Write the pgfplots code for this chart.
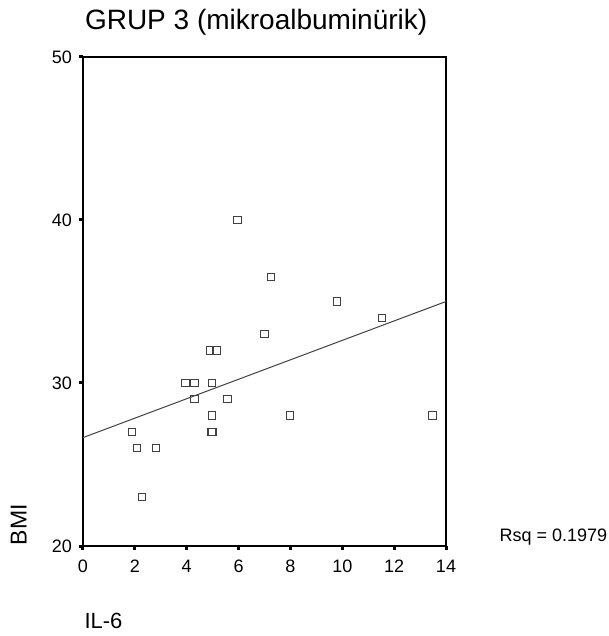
\documentclass[border=0pt]{standalone}
\usepackage{pgfplots}
\pgfplotsset{compat=1.18}
\usepackage{fontspec}
\setmainfont{Liberation Sans}
\begin{document}
\begin{tikzpicture}
\useasboundingbox (-83pt,-90pt) rectangle (525pt,546pt);
\begin{axis}[
  scale only axis, width=363pt, height=489pt,
  xmin=0, xmax=14, ymin=20, ymax=50,
  xtick={0,2,...,14}, ytick={20,30,40,50},
  xtick pos=left, ytick pos=left,
  tick align=outside, major tick length=3.5pt,
  every tick/.style={black, line width=3pt},
  axis line style={black, line width=1.1pt},
  tick label style={font=\fontsize{18}{18}\selectfont},
  /pgf/number format/assume math mode=true,
  xticklabel style={yshift=-7pt},
  yticklabel style={xshift=-4pt},
  clip=false,
]
\addplot[only marks, mark=square, mark size=3.7pt, mark options={draw=black!75, line width=1pt, fill=white}]
coordinates {
(1.88,27) (2.08,26) (2.28,23) (2.82,26) (3.95,30) (4.3,30) (4.3,29)
(4.9,32) (5.15,32) (4.97,30) (4.97,28) (4.95,27) (5.0,27) (5.58,29)
(5.96,40) (7.0,33) (7.25,36.5) (7.98,28) (9.8,35) (11.53,34) (13.48,28)
};
\addplot[no marks, black!75, line width=1pt] coordinates {(0,26.65) (14,35.0)};
\node[font=\fontsize{28}{28}\selectfont, anchor=center] at (rel axis cs:0.477,1) [yshift=35pt] {GRUP 3 (mikroalbuminürik)};
\node[font=\fontsize{18}{18}\selectfont, anchor=west] at (rel axis cs:1,0) [xshift=50pt, yshift=9pt] {Rsq = 0.1979};
\node[font=\fontsize{23}{23}\selectfont, rotate=90, anchor=center] at (axis cs:-2.48,21.3) {BMI};
\node[font=\fontsize{22}{22}\selectfont, anchor=west] at (rel axis cs:0,0) [xshift=-2pt, yshift=-75pt] {IL-6};
\end{axis}
\end{tikzpicture}
\end{document}
